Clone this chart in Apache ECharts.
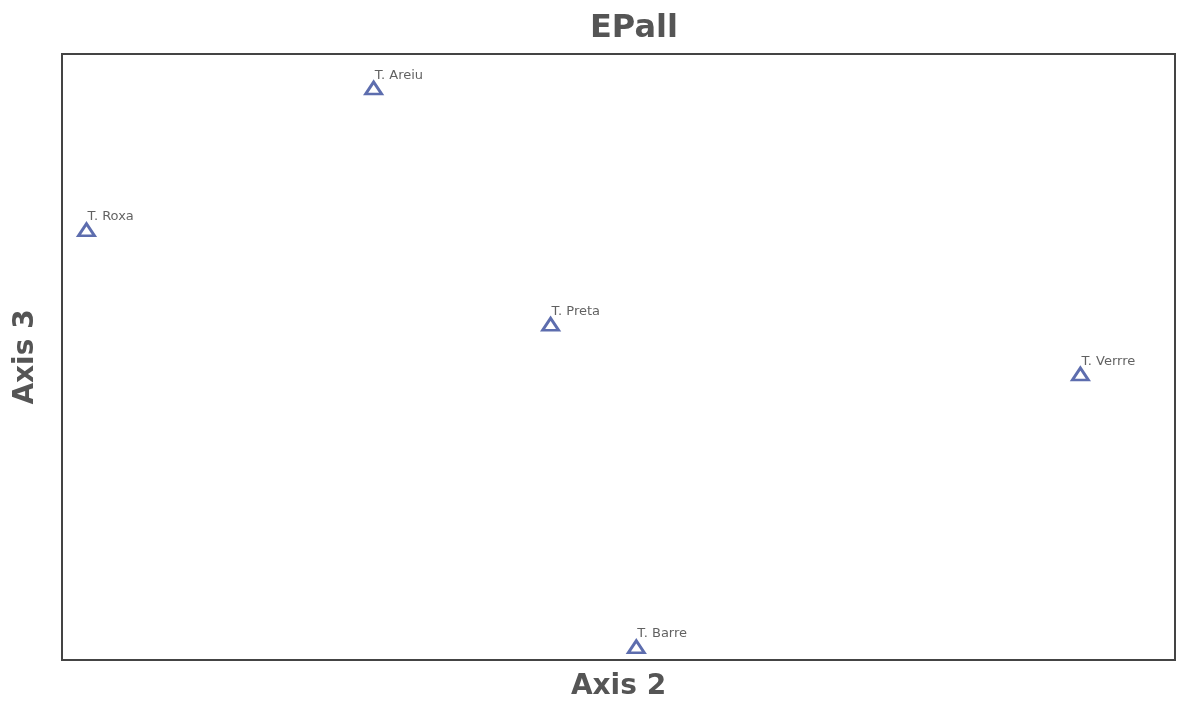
<!DOCTYPE html>
<html>
<head>
<meta charset="utf-8">
<title>EPall</title>
<script src="https://cdn.jsdelivr.net/npm/echarts@6/dist/echarts.min.js"></script>
<style>
    html, body { margin: 0; padding: 0; background: #fff; }
    #main { width: 1185px; height: 707px; }
</style>
</head>
<body>
<div id="main"></div>
<script>
// site names and their ordination scores (axis 2 / axis 3)
var sites = ['T. Areiu', 'T. Roxa', 'T. Preta', 'T. Verrre', 'T. Barre'];
var axis2 = [28.0, 2.2, 43.9, 91.5, 51.6];
var axis3 = [94.4, 71.0, 55.4, 47.2, 2.2];

var myChart = echarts.init(document.getElementById('main'));

var pts = [];
for (var i = 0; i < sites.length; i++) {
    pts.push({ name: sites[i], value: [axis2[i], axis3[i]] });
}

var hiddenAxis = {
    axisLine: { show: false },
    axisTick: { show: false },
    axisLabel: { show: false },
    splitLine: { show: false }
};

var option = {
    backgroundColor: '#fff',
    title: {
        text: 'EPall',
        left: 585,
        top: 8,
        textStyle: {
            color: '#555',
            fontSize: 32,
            fontWeight: 'bold',
            fontFamily: 'DejaVu Sans'
        }
    },
    grid: {
        left: 62,
        right: 10,
        top: 54,
        bottom: 47,
        outerBoundsMode: 'none',
        containLabel: false,
        show: true,
        borderColor: '#444',
        borderWidth: 2
    },
    xAxis: Object.assign({
        type: 'value',
        min: 0,
        max: 100,
        name: 'Axis 2',
        nameLocation: 'middle',
        nameGap: 13,
        nameTextStyle: { color: '#555', fontSize: 28, fontWeight: 'bold', fontFamily: 'DejaVu Sans' }
    }, hiddenAxis),
    yAxis: Object.assign({
        type: 'value',
        min: 0,
        max: 100,
        name: 'Axis 3',
        nameLocation: 'middle',
        nameGap: 22,
        nameTextStyle: { color: '#555', fontSize: 28, fontWeight: 'bold', fontFamily: 'DejaVu Sans' }
    }, hiddenAxis),
    series: [{
        type: 'scatter',
        data: pts,
        symbol: 'triangle',
        symbolSize: [16, 12],
        itemStyle: {
            color: '#fff',
            borderColor: '#34489a',
            borderWidth: 2.8
        },
        label: {
            show: true,
            formatter: '{b}',
            position: 'top',
            align: 'left',
            offset: [1, 6],
            color: '#3a3a3a',
            fontSize: 13,
            fontFamily: 'DejaVu Sans'
        }
    }]
};

myChart.setOption(option);
</script>
</body>
</html>
